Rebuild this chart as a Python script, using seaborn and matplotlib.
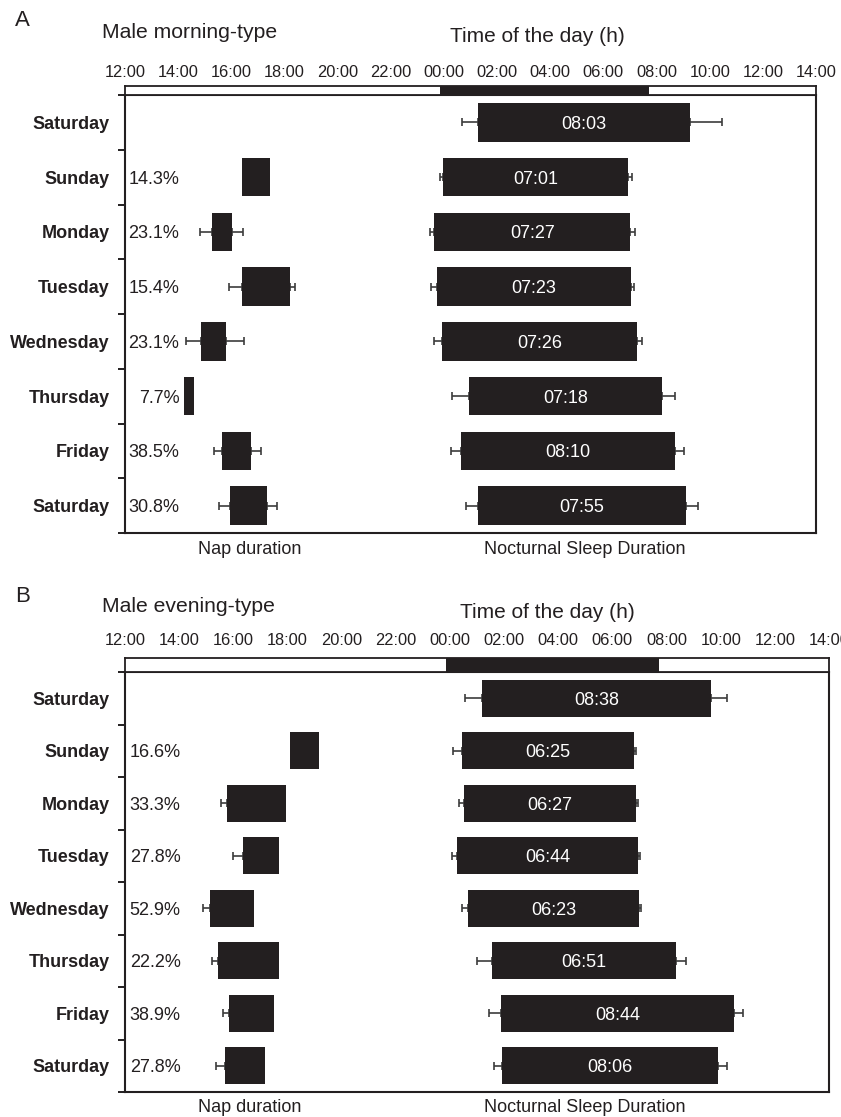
import numpy as np
import pandas as pd
import matplotlib
matplotlib.use("Agg")
import matplotlib.pyplot as plt
import seaborn as sns

# ---------------- data ----------------
days = ["Saturday", "Sunday", "Monday", "Tuesday", "Wednesday", "Thursday", "Friday", "Saturday"]
time_ticks = [12, 14, 16, 18, 20, 22, 24, 26, 28, 30, 32, 34, 36, 38]
time_labels = ["12:00", "14:00", "16:00", "18:00", "20:00", "22:00", "00:00",
               "02:00", "04:00", "06:00", "08:00", "10:00", "12:00", "14:00"]
dark_start, dark_end = 23.85, 31.72  # dark phase (h, 24 = midnight)

nan = np.nan
# Panel A: male morning-type
a_nap_pct = ["", "14.3%", "23.1%", "15.4%", "23.1%", "7.7%", "38.5%", "30.8%"]
a_nap_start = [nan, 16.41, 15.27, 16.41, 14.86, 14.23, 15.65, 15.95]
a_nap_end = [nan, 17.47, 16.03, 18.21, 15.80, 14.61, 16.73, 17.33]
a_nap_err_lo = [nan, nan, 14.83, 15.92, 14.29, nan, 15.35, 15.53]
a_nap_err_hi = [nan, nan, 16.45, 18.41, 16.49, nan, 17.13, 17.73]
a_sleep_start = [25.30, 23.96, 23.63, 23.73, 23.91, 24.94, 24.63, 25.27]
a_sleep_end = [33.26, 30.92, 31.02, 31.05, 31.28, 32.19, 32.68, 33.09]
a_sleep_err_lo = [24.69, 23.85, 23.47, 23.52, 23.61, 24.29, 24.25, 24.84]
a_sleep_err_hi = [34.47, 31.09, 31.18, 31.17, 31.45, 32.71, 33.04, 33.56]
a_sleep_label = ["08:03", "07:01", "07:27", "07:23", "07:26", "07:18", "08:10", "07:55"]

# Panel B: male evening-type
b_nap_pct = ["", "16.6%", "33.3%", "27.8%", "52.9%", "22.2%", "38.9%", "27.8%"]
b_nap_start = [nan, 18.10, 15.76, 16.35, 15.13, 15.43, 15.84, 15.70]
b_nap_end = [nan, 19.16, 17.93, 17.68, 16.76, 17.68, 17.49, 17.17]
b_nap_err_lo = [nan, nan, 15.56, 15.98, 14.88, 15.20, 15.63, 15.37]
b_nap_err_hi = [nan, nan, nan, nan, nan, nan, nan, nan]
b_sleep_start = [25.17, 24.45, 24.53, 24.26, 24.67, 25.57, 25.88, 25.93]
b_sleep_end = [33.64, 30.81, 30.88, 30.95, 30.98, 32.34, 34.50, 33.90]
b_sleep_err_lo = [24.54, 24.10, 24.34, 24.06, 24.44, 25.01, 25.45, 25.61]
b_sleep_err_hi = [34.25, 30.87, 30.96, 31.01, 31.05, 32.72, 34.84, 34.25]
b_sleep_label = ["08:38", "06:25", "06:27", "06:44", "06:23", "06:51", "08:44", "08:06"]

# ---------------- style ----------------
sns.set_theme(style="white")
plt.rcParams['font.family'] = ['Liberation Sans', 'DejaVu Sans']
INK = "#231f20"
ERR = "#3c3c3c"

W, H = 841, 1117
fig = plt.figure(figsize=(W / 100, H / 100), dpi=100)


def box(l, t, r, b):
    return [l / W, 1 - b / H, (r - l) / W, (b - t) / H]


def draw_bars(ax, start, end, err_lo, err_hi, pct=None, labels=None):
    rows = list(range(len(days)))
    df = pd.DataFrame({"row": rows, "start": start, "end": end})
    df["dur"] = df["end"] - df["start"]
    df = df.dropna()
    sns.barplot(data=df, x="dur", y="row", orient="y", order=rows,
                left=df["start"].to_numpy(), color=INK, width=0.7,
                linewidth=0, saturation=1, errorbar=None, ax=ax, zorder=3)
    for i in rows:
        s, e, lo, hi = start[i], end[i], err_lo[i], err_hi[i]
        if not np.isnan(lo):
            ax.errorbar(s, i, xerr=[[s - lo], [0]], fmt="none", ecolor=ERR,
                        elinewidth=1.2, capsize=3, capthick=1.2, zorder=2)
        if not np.isnan(hi):
            ax.errorbar(e, i, xerr=[[0], [hi - e]], fmt="none", ecolor=ERR,
                        elinewidth=1.2, capsize=3, capthick=1.2, zorder=2)
        if labels is not None:
            ax.text((s + e) / 2, i, labels[i], color="white", ha="center",
                    va="center_baseline", fontsize=13, zorder=4)
        if pct is not None and pct[i]:
            ax.text(14.05, i, pct[i], ha="right", va="center_baseline", fontsize=13,
                    color=INK, zorder=4)


def panel(ax_box, strip_box, letter, subtitle, header_y, tick_pad,
          nap, sleep, bottom_label_y, title_x):
    ax = fig.add_axes(ax_box)
    draw_bars(ax, *nap)
    draw_bars(ax, *sleep)
    ax.set_xlim(12, 38)
    ax.set_ylim(7.5, -0.5)
    ax.set_xticks([])
    ax.set_xlabel("")
    ax.set_ylabel("")
    ax.set_yticks(range(len(days)))
    ax.set_yticklabels(days, fontsize=13, fontweight="bold", color=INK)
    ax.set_yticks(np.arange(-0.5, 8, 1.0), minor=True)
    ax.tick_params(axis="y", which="major", length=0, pad=11)
    ax.tick_params(axis="y", which="minor", length=5, width=1.4, color=INK,
                   direction="out", left=True)
    for sp in ax.spines.values():
        sp.set_visible(True)
        sp.set_color(INK)
        sp.set_linewidth(1.5)

    # light/dark strip with time-of-day axis
    sx = fig.add_axes(strip_box)
    sx.set_xlim(12, 38)
    sx.set_ylim(0, 1)
    sx.barh([0.5], [dark_end - dark_start], left=[dark_start], height=1.0,
            color=INK, linewidth=0)
    sx.set_yticks([])
    sx.set_xticks(time_ticks)
    sx.set_xticklabels(time_labels, fontsize=11.8, color=INK)
    sx.xaxis.tick_top()
    sx.tick_params(axis="x", which="major", length=0, pad=tick_pad)
    for sp in sx.spines.values():
        sp.set_visible(True)
        sp.set_color(INK)
        sp.set_linewidth(1.3)

    fig.text(15 / W, 1 - (header_y - 11) / H, letter, fontsize=16, color=INK,
             ha="left", va="center")
    fig.text(102 / W, 1 - header_y / H, subtitle, fontsize=15.2, color=INK,
             ha="left", va="center")
    fig.text(title_x / W, 1 - (header_y + 5) / H,
             "Time of the day (h)", fontsize=15, color=INK, ha="center", va="center")
    fig.text(250 / W, 1 - bottom_label_y / H, "Nap duration", fontsize=13,
             color=INK, ha="center", va="center")
    fig.text(585 / W, 1 - bottom_label_y / H, "Nocturnal Sleep Duration",
             fontsize=13, color=INK, ha="center", va="center")
    return ax


panel(box(125, 95, 816, 533), box(125, 86, 816, 95), "A", "Male morning-type",
      32, 4,
      (a_nap_start, a_nap_end, a_nap_err_lo, a_nap_err_hi, a_nap_pct, None),
      (a_sleep_start, a_sleep_end, a_sleep_err_lo, a_sleep_err_hi, None, a_sleep_label),
      550, 537)

panel(box(125, 672, 829, 1092), box(125, 658, 829, 672), "B", "Male evening-type",
      607, 7,
      (b_nap_start, b_nap_end, b_nap_err_lo, b_nap_err_hi, b_nap_pct, None),
      (b_sleep_start, b_sleep_end, b_sleep_err_lo, b_sleep_err_hi, None, b_sleep_label),
      1107, 547)

fig.savefig("out.png", dpi=100)
